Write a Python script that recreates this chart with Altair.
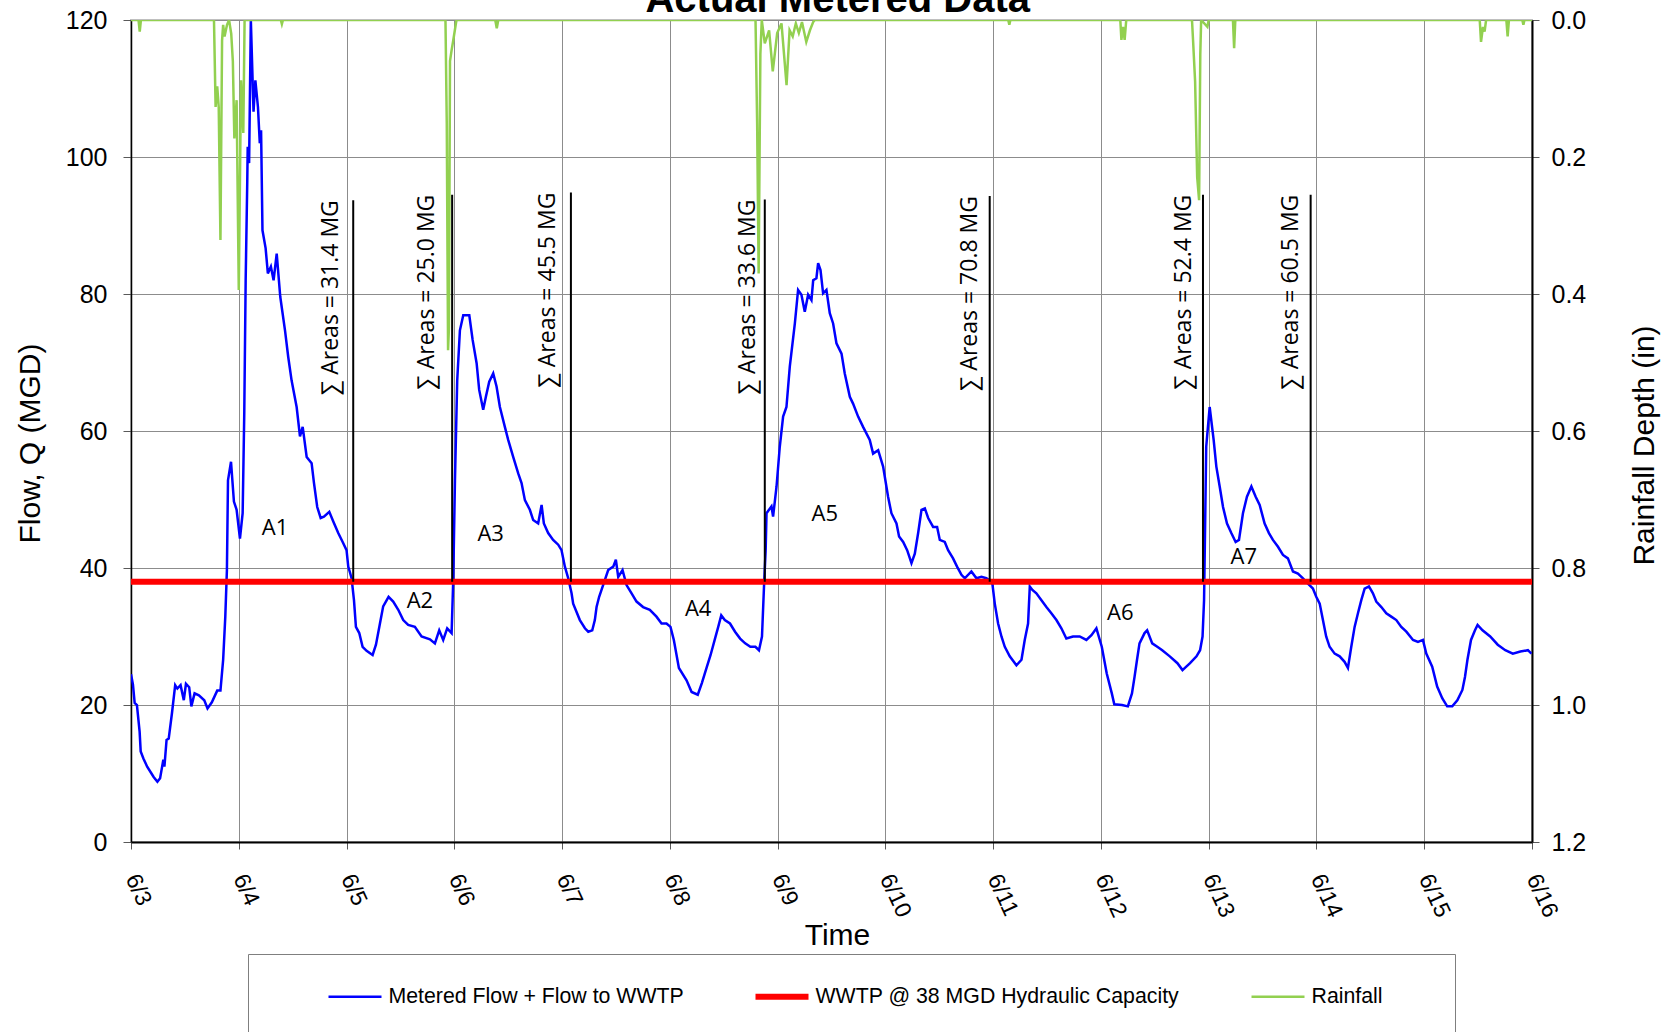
import altair as alt
import pandas as pd

# ---------------- data ----------------
chart_title = "Actual Metered Data"
series_names = ["Metered Flow + Flow to WWTP", "WWTP @ 38 MGD Hydraulic Capacity", "Rainfall"]
series_colors = ["#0000ff", "#ff0000", "#92d050"]
series_widths = [2.5, 6, 2.5]
day_labels = ["6/3", "6/4", "6/5", "6/6", "6/7", "6/8", "6/9", "6/10",
              "6/11", "6/12", "6/13", "6/14", "6/15", "6/16"]

# days since 6/3 00:00
flow_day = [
    0.000, 0.018, 0.034, 0.055, 0.080, 0.090, 0.115, 0.150, 0.190, 0.210, 0.245, 0.270, 0.300, 0.310,
    0.330, 0.350, 0.380, 0.410, 0.430, 0.460, 0.490, 0.510, 0.540, 0.560, 0.590, 0.630, 0.680, 0.710,
    0.750, 0.800, 0.830, 0.855, 0.875, 0.890, 0.900, 0.928, 0.955, 0.980, 1.011, 1.036, 1.051, 1.064,
    1.079, 1.083, 1.096, 1.112, 1.137, 1.154, 1.178, 1.195, 1.207, 1.220, 1.249, 1.270, 1.298, 1.323,
    1.352, 1.385, 1.429, 1.459, 1.490, 1.537, 1.568, 1.593, 1.630, 1.676, 1.698, 1.728, 1.760, 1.790,
    1.840, 1.877, 1.923, 1.964, 2.000, 2.016, 2.047, 2.069, 2.087, 2.118, 2.149, 2.186, 2.242, 2.273,
    2.310, 2.340, 2.390, 2.433, 2.480, 2.526, 2.572, 2.634, 2.696, 2.774, 2.820, 2.860, 2.897, 2.934,
    2.975, 2.990, 3.006, 3.027, 3.052, 3.083, 3.139, 3.170, 3.207, 3.231, 3.268, 3.293, 3.324, 3.361,
    3.392, 3.423, 3.469, 3.500, 3.547, 3.593, 3.624, 3.655, 3.701, 3.732, 3.778, 3.810, 3.831, 3.871,
    3.917, 3.964, 3.995, 4.026, 4.057, 4.088, 4.103, 4.165, 4.212, 4.243, 4.280, 4.304, 4.320, 4.344,
    4.366, 4.428, 4.475, 4.499, 4.521, 4.561, 4.598, 4.645, 4.691, 4.752, 4.814, 4.876, 4.923, 4.969,
    5.006, 5.037, 5.084, 5.155, 5.202, 5.259, 5.297, 5.344, 5.378, 5.416, 5.449, 5.477, 5.510, 5.558,
    5.605, 5.652, 5.699, 5.747, 5.794, 5.827, 5.855, 5.875, 5.889, 5.897, 5.943, 5.958, 5.990, 6.020,
    6.051, 6.082, 6.113, 6.160, 6.190, 6.221, 6.252, 6.283, 6.314, 6.330, 6.360, 6.376, 6.398, 6.422,
    6.453, 6.484, 6.515, 6.546, 6.593, 6.623, 6.670, 6.700, 6.747, 6.793, 6.855, 6.886, 6.933, 6.979,
    7.025, 7.056, 7.103, 7.127, 7.165, 7.202, 7.242, 7.273, 7.304, 7.335, 7.366, 7.397, 7.443, 7.480,
    7.505, 7.551, 7.582, 7.628, 7.665, 7.706, 7.737, 7.798, 7.845, 7.891, 7.937, 7.968, 7.993, 8.015,
    8.046, 8.077, 8.108, 8.154, 8.216, 8.263, 8.293, 8.324, 8.340, 8.364, 8.401, 8.448, 8.494, 8.540,
    8.587, 8.633, 8.679, 8.741, 8.803, 8.865, 8.912, 8.958, 9.008, 9.054, 9.101, 9.124, 9.195, 9.250,
    9.288, 9.312, 9.335, 9.358, 9.405, 9.429, 9.476, 9.523, 9.569, 9.639, 9.710, 9.757, 9.827, 9.887,
    9.920, 9.943, 9.957, 9.964, 9.977, 10.009, 10.046, 10.071, 10.102, 10.133, 10.170, 10.210, 10.250,
    10.281, 10.318, 10.355, 10.396, 10.436, 10.473, 10.519, 10.559, 10.596, 10.643, 10.689, 10.735,
    10.782, 10.828, 10.875, 10.921, 10.967, 10.998, 11.030, 11.060, 11.090, 11.122, 11.169, 11.215,
    11.261, 11.292, 11.323, 11.354, 11.385, 11.416, 11.447, 11.487, 11.524, 11.555, 11.602, 11.648,
    11.694, 11.741, 11.787, 11.834, 11.896, 11.942, 11.988, 12.019, 12.074, 12.120, 12.167, 12.213,
    12.260, 12.307, 12.354, 12.378, 12.401, 12.434, 12.471, 12.495, 12.541, 12.612, 12.682, 12.752,
    12.822, 12.892, 12.962, 12.995,
]
flow_mgd = [
    24.5, 23.0, 20.3, 20.0, 16.1, 13.2, 12.2, 11.0, 10.0, 9.5, 8.8, 9.3, 12.0, 11.0,
    14.9, 15.1, 18.8, 22.9, 22.4, 22.9, 20.7, 23.1, 22.6, 19.8, 21.7, 21.4, 20.7, 19.5,
    20.4, 22.1, 22.1, 26.6, 32.9, 39.7, 52.8, 55.5, 49.7, 48.5, 44.3, 48.0, 62.6, 82.0,
    96.6, 101.5, 99.1, 120.0, 106.6, 111.2, 107.3, 102.0, 103.9, 89.3, 86.7, 83.0, 84.0, 82.0,
    85.9, 79.6, 74.7, 70.8, 67.4, 63.5, 59.2, 60.6, 56.2, 55.3, 52.4, 48.9, 47.3, 47.5,
    48.2, 46.8, 45.1, 43.8, 42.6, 40.2, 38.5, 35.3, 31.4, 30.5, 28.5, 27.9, 27.3, 28.8,
    31.9, 34.4, 35.8, 35.1, 33.9, 32.4, 31.7, 31.4, 30.0, 29.6, 29.0, 30.9, 29.5, 31.2,
    30.5, 38.2, 52.8, 67.4, 74.7, 76.9, 76.9, 73.3, 69.9, 66.0, 63.1, 65.0, 67.2, 68.4,
    66.5, 63.5, 60.6, 58.7, 56.2, 53.8, 52.4, 49.9, 48.5, 47.0, 46.5, 49.2, 46.5, 45.1,
    44.1, 43.4, 42.6, 40.2, 38.5, 36.3, 34.8, 32.4, 31.2, 30.7, 30.9, 32.4, 34.3, 35.8,
    36.8, 39.7, 40.2, 41.2, 38.7, 39.7, 37.5, 36.3, 35.1, 34.3, 33.9, 32.9, 31.9, 31.9,
    31.4, 29.5, 25.4, 23.6, 21.9, 21.5, 23.2, 25.6, 27.3, 29.5, 31.4, 33.1, 32.4, 31.9,
    30.7, 29.7, 29.0, 28.5, 28.5, 28.0, 30.0, 37.8, 42.6, 48.0, 49.0, 47.5, 51.9, 57.7,
    62.1, 63.5, 69.4, 75.7, 80.6, 79.9, 77.4, 79.9, 79.1, 82.0, 82.3, 84.5, 83.5, 80.1,
    80.6, 77.2, 75.7, 72.8, 71.3, 68.4, 65.0, 64.0, 62.1, 60.6, 58.7, 56.7, 57.2, 54.8,
    50.4, 48.0, 46.5, 44.6, 43.8, 42.6, 40.7, 42.1, 45.1, 48.5, 48.7, 47.3, 46.0, 46.0,
    44.1, 43.8, 42.6, 41.4, 40.2, 39.0, 38.5, 39.5, 38.5, 38.7, 38.5, 38.2, 37.7, 34.8,
    31.9, 30.0, 28.5, 27.1, 25.8, 26.6, 29.5, 31.9, 37.3, 36.8, 36.3, 35.3, 34.3, 33.4,
    32.4, 31.2, 29.7, 30.0, 30.0, 29.5, 30.2, 31.2, 28.5, 24.6, 21.7, 20.1, 20.0, 19.8,
    21.7, 24.1, 26.6, 29.0, 30.5, 30.9, 29.0, 28.5, 28.0, 27.1, 26.1, 25.1, 26.1, 27.1,
    28.0, 30.0, 35.3, 43.1, 57.7, 63.5, 58.7, 54.8, 51.9, 48.9, 46.5, 45.1, 43.8,
    44.1, 48.0, 50.4, 51.9, 50.4, 49.2, 46.5, 45.1, 44.1, 43.1, 41.9, 41.4,
    39.5, 39.2, 38.5, 37.7, 37.0, 35.8, 34.8, 32.4, 30.0, 28.5, 27.5, 27.1,
    26.3, 25.4, 28.5, 31.4, 33.4, 35.3, 37.0, 37.3, 36.3, 35.1, 34.3, 33.4,
    32.9, 32.4, 31.4, 30.7, 29.5, 29.2, 29.5, 27.5, 25.6, 22.7, 21.0, 19.8,
    19.8, 20.7, 22.2, 24.1, 26.6, 29.5, 30.9, 31.7, 30.9, 30.0, 28.8, 28.0,
    27.5, 27.8, 28.0, 27.5,
]

rain_day = [
    0.000, 0.070, 0.081, 0.092,
    0.770, 0.785, 0.800, 0.814, 0.830, 0.845, 0.855, 0.868, 0.891, 0.910, 0.930, 0.945, 0.959,
    0.980, 1.000, 1.021, 1.042, 1.054,
    1.390, 1.400, 1.410,
    2.918, 2.930, 2.942, 2.950, 2.960, 2.975, 2.990, 3.005, 3.020,
    3.380, 3.394, 3.408,
    5.795, 5.810, 5.824, 5.840, 5.853, 5.881, 5.921, 5.955, 5.996, 6.036, 6.083, 6.111, 6.140,
    6.169, 6.197, 6.226, 6.266, 6.300, 6.330, 6.345,
    8.140, 8.150, 8.160,
    9.180, 9.190, 9.205, 9.220, 9.235,
    9.845, 9.855, 9.874, 9.893, 9.911, 9.922, 9.930, 9.988, 10.000,
    10.225, 10.236, 10.247,
    12.515, 12.527, 12.545, 12.560, 12.574,
    12.762, 12.774, 12.786,
    12.910, 12.920, 12.930, 13.000,
]
rain_in = [
    0.0, 0.0, 0.017, 0.0,
    0.0, 0.127, 0.097, 0.127, 0.321, 0.030, 0.007, 0.024, 0.007, 0.0, 0.020, 0.060, 0.173,
    0.117, 0.394, 0.088, 0.165, 0.0,
    0.0, 0.006, 0.0,
    0.0, 0.150, 0.482, 0.450, 0.060, 0.044, 0.030, 0.015, 0.0,
    0.0, 0.012, 0.0,
    0.0, 0.150, 0.370, 0.050, 0.0, 0.034, 0.015, 0.075, 0.019, 0.005, 0.095, 0.015, 0.024,
    0.005, 0.019, 0.003, 0.032, 0.015, 0.003, 0.0,
    0.0, 0.007, 0.0,
    0.0, 0.029, 0.010, 0.029, 0.0,
    0.0, 0.030, 0.090, 0.229, 0.263, 0.050, 0.0, 0.010, 0.0,
    0.0, 0.041, 0.0,
    0.0, 0.032, 0.010, 0.017, 0.0,
    0.0, 0.024, 0.0,
    0.0, 0.007, 0.0, 0.0,
]

capacity_mgd = 38

area_line_day = [2.062, 2.980, 4.082, 5.881, 7.968, 9.947, 10.946]
area_line_top = [93.7, 94.5, 94.8, 93.8, 94.3, 94.5, 94.5]
area_label_day = [1.855, 2.750, 3.868, 5.729, 7.783, 9.768, 10.761]
area_volume_mg = ["31.4", "25.0", "45.5", "33.6", "70.8", "52.4", "60.5"]

region_names = ["A1", "A2", "A3", "A4", "A5", "A6", "A7"]
region_day = [1.336, 2.681, 3.337, 5.263, 6.438, 9.180, 10.325]
region_flow = [45.8, 35.2, 45.0, 34.0, 47.9, 33.5, 41.6]

# title sits just above the plot top (partly cut off by the page edge, as in the original)
title_day = [6.558]
title_flow = [121.1]

# ---------------- tables ----------------
flow_df = pd.DataFrame({"day": flow_day, "flow": flow_mgd, "series": series_names[0]})
cap_df = pd.DataFrame({"flow": [capacity_mgd], "series": [series_names[1]]})
rain_df = pd.DataFrame({"day": rain_day, "rain": rain_in, "series": series_names[2]})
area_df = pd.DataFrame({
    "day": area_line_day,
    "label_day": area_label_day,
    "flow": [capacity_mgd] * len(area_line_day),
    "top": area_line_top,
    "label": ["\u2211 Areas = " + v + " MG" for v in area_volume_mg],
})
region_df = pd.DataFrame({"day": region_day, "flow": region_flow, "label": region_names})
title_df = pd.DataFrame({"day": title_day, "flow": title_flow, "label": [chart_title]})

# ---------------- scales / axes ----------------
x_scale = alt.Scale(domain=[0, len(day_labels) - 1], nice=False, zero=False)
y_scale = alt.Scale(domain=[0, 120], nice=False)
rain_scale = alt.Scale(domain=[0, 1.2], reverse=True, nice=False)

label_array = "[" + ",".join("'" + s + "'" for s in day_labels) + "]"
x_axis = alt.Axis(
    values=list(range(len(day_labels))), labelExpr=label_array + "[datum.value]",
    labelAngle=65, labelAlign="left", labelBaseline="middle", labelPadding=26,
    labelFontSize=23, tickSize=7, grid=True, domainWidth=2,
    title="Time", titleFontSize=30, titleX=706, titleY=93, titleBaseline="middle",
)
y_axis = alt.Axis(
    values=list(range(0, 121, 20)), labelFontSize=25, labelPadding=16, tickSize=8,
    grid=True, domainWidth=1.5,
    title="Flow, Q (MGD)", titleFontSize=30, titleX=-101, titleY=423, titleAngle=270,
    titleAlign="center", titleBaseline="middle",
)
rain_axis = alt.Axis(
    orient="right", values=[0, 0.2, 0.4, 0.6, 0.8, 1.0, 1.2], format=".1f",
    labelFontSize=25, labelPadding=12, tickSize=7, grid=False, domainWidth=2,
    title="Rainfall Depth (in)", titleFontSize=30, titleX=112, titleY=425, titleAngle=270,
    titleAlign="center", titleBaseline="middle",
)

# trailing blank room inside the legend frame (zero-width space keeps it from being trimmed)
pad = "\u00a0" * 10 + "\u200b"
legend = alt.Legend(
    # a transparent spacer title below the entries lets the frame run off the page bottom
    title=".", titleOrient="bottom", titleFontSize=12, titlePadding=14, titleOpacity=0,
    orient="none", legendX=117, legendY=934, direction="horizontal", columns=3,
    symbolType="stroke", symbolSize=2809,
    labelFont="Liberation Sans", labelFontSize=21.3, labelColor="black", labelLimit=800,
    padding=13, strokeColor="#7f7f7f", symbolOffset=64.5, labelOffset=4, columnPadding=4,
    labelExpr="datum.label + (datum.value == '" + series_names[2] + "' ? '" + pad + "' : '')",
)
color = alt.Color("series:N", scale=alt.Scale(domain=series_names, range=series_colors),
                  legend=legend)
width = alt.StrokeWidth("series:N",
                        scale=alt.Scale(type="ordinal", domain=series_names, range=series_widths),
                        legend=legend)

X = alt.X("day:Q", scale=x_scale, axis=x_axis)
Y = alt.Y("flow:Q", scale=y_scale, axis=y_axis)

flow_line = alt.Chart(flow_df).mark_line(clip=True).encode(
    x=X, y=Y, color=color, strokeWidth=width)
cap_line = alt.Chart(cap_df).mark_rule().encode(y=Y, color=color, strokeWidth=width)
area_rules = alt.Chart(area_df).mark_rule(color="black", strokeWidth=2).encode(
    x=X, y=Y, y2=alt.Y2("top:Q"))
area_text = alt.Chart(area_df).mark_text(
    angle=270, align="right", baseline="middle", font="Open Sans", fontSize=23, color="black"
).encode(x=alt.X("label_day:Q", scale=x_scale, axis=x_axis),
         y=alt.Y("top:Q", scale=y_scale, axis=y_axis), text="label:N")
region_text = alt.Chart(region_df).mark_text(
    align="center", baseline="middle", font="Open Sans", fontSize=22, color="black"
).encode(x=X, y=Y, text="label:N")
title_text = alt.Chart(title_df).mark_text(
    align="center", baseline="alphabetic", font="Liberation Sans", fontSize=40,
    fontWeight="bold", color="black"
).encode(x=X, y=Y, text="label:N")

left = alt.layer(flow_line, cap_line, area_rules, area_text, region_text, title_text)

rain_line = alt.Chart(rain_df).mark_line(clip=True).encode(
    x=X, y=alt.Y("rain:Q", scale=rain_scale, axis=rain_axis), color=color, strokeWidth=width)

chart = alt.layer(left, rain_line).resolve_scale(y="independent").properties(
    width=1401, height=822,
    padding={"left": 131, "top": 20, "right": 139, "bottom": 190},
    autosize=alt.AutoSizeParams(type="none"),
).configure(font="Liberation Sans").configure_view(
    stroke="#bfbfbf", strokeWidth=2
).configure_axis(
    labelColor="black", titleColor="black", labelFont="Liberation Sans",
    titleFont="Liberation Sans", titleFontWeight="normal", gridColor="#8c8c8c",
    gridWidth=1, tickColor="#595959", domainColor="black",
)

chart.save("out.html", embed_options={"renderer": "svg", "actions": False})
